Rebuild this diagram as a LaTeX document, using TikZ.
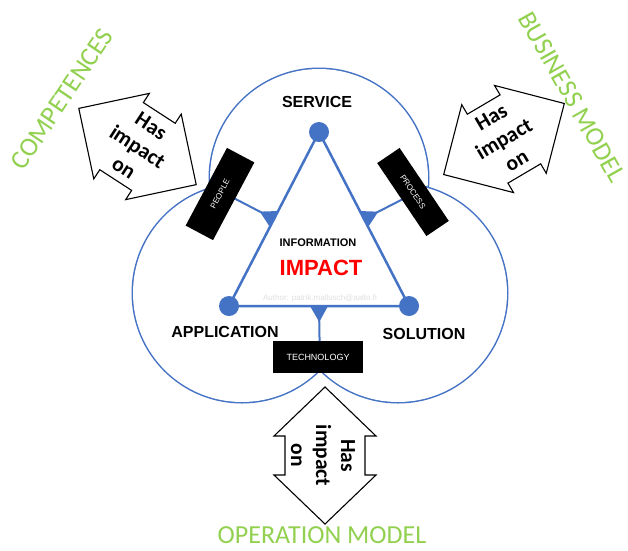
\documentclass[tikz,border=0pt]{standalone}
\usepackage{fontspec}
\setmainfont{Liberation Sans}
\newfontfamily\calfont{Carlito}
\usetikzlibrary{calc}
\definecolor{tblue}{HTML}{4472C4}
\definecolor{lgreen}{HTML}{92D050}
\definecolor{impred}{HTML}{FF0000}
\begin{document}
\begin{tikzpicture}[x=1pt,y=-1pt,
  dotnode/.style={circle,fill=tblue,inner sep=0pt,minimum size=20pt},
  blackbox/.style={fill=black,text=white,inner sep=0pt,font=\fontsize{8}{9}\selectfont},
  lbl/.style={font=\bfseries\fontsize{16}{19}\selectfont,inner sep=0pt},
  greenlbl/.style={text=lgreen,font=\calfont\fontsize{26.5}{30}\selectfont,inner sep=0pt},
  hasarrow/.style={draw=black,fill=white,line width=1.1pt,line join=miter},
  hastext/.style={font=\calfont\bfseries\fontsize{21.5}{25}\selectfont,align=center,inner sep=0pt},
  edgeline/.style={tblue,line width=2.5pt,line join=round},
  connline/.style={tblue,line width=2pt},
]
\path[use as bounding box] (0,0) rectangle (628,550);

% circles (outer outline only)
\coordinate (cT) at (319,178);
\coordinate (cL) at (242,293);
\coordinate (cR) at (398,293);
\draw[tblue,line width=3pt] (cT) circle[radius=109] (cL) circle[radius=109] (cR) circle[radius=109];
\fill[white] (cT) circle[radius=109] (cL) circle[radius=109] (cR) circle[radius=109];

% intersection points
\coordinate (P1) at (211.5,186.5);
\coordinate (P2) at (427.5,186.5);
\coordinate (P3) at (320,369.1);

% triangle
\coordinate (A) at (319,132);
\coordinate (B) at (229,306);
\coordinate (C) at (409,306);
\coordinate (mAB) at ($(A)!0.5!(B)$);
\coordinate (mAC) at ($(A)!0.5!(C)$);
\coordinate (mBC) at ($(B)!0.5!(C)$);

\draw[connline] (mAB) -- (P1);
\draw[connline] (mAC) -- (P2);
\draw[connline] (mBC) -- (P3);

\draw[edgeline] (A) -- (B) -- (C) -- cycle;

\fill[tblue] ($(mAB)!9pt!(A)$) -- ($(mAB)!9pt!(B)$) -- ($(mAB)!16pt!(P1)$) -- cycle;
\fill[tblue] ($(mAC)!9pt!(A)$) -- ($(mAC)!9pt!(C)$) -- ($(mAC)!16pt!(P2)$) -- cycle;
\fill[tblue] ($(mBC)!9pt!(B)$) -- ($(mBC)!9pt!(C)$) -- ($(mBC)!16pt!(P3)$) -- cycle;

\node[dotnode] (dA) at (A) {};
\node[dotnode] (dB) at (B) {};
\node[dotnode] (dC) at (C) {};

% black boxes
\node[blackbox,minimum width=88pt,minimum height=31pt,rotate=62] (people) at (220,194) {PEOPLE};
\node[blackbox,minimum width=88pt,minimum height=27pt,rotate=-56] (process) at (413,192) {PROCESS};
\node[blackbox,minimum width=90pt,minimum height=32pt,font=\fontsize{9}{10}\selectfont] (tech) at (318,357) {TECHNOLOGY};

% labels
\node[lbl] (service) at (317,102) {SERVICE};
\node[lbl] (application) at (225,332) {APPLICATION};
\node[lbl] (solution) at (424,334) {SOLUTION};
\node[font=\bfseries\fontsize{11}{13}\selectfont,inner sep=0pt] (information) at (318,243) {INFORMATION};
\node[font=\bfseries\fontsize{22}{26}\selectfont,text=impred,inner sep=0pt] (impact) at (321,268) {IMPACT};
\node[font=\fontsize{8}{9}\selectfont,text=black!12,inner sep=0pt] (author) at (320,298) {Author: patrik.mallusch@aalto.fi};

% double arrows
\begin{scope}[shift={(137.5,146.5)},rotate=-33]
\draw[hasarrow] (-70,0) -- (-19,-51) -- (-19,-40) -- (19,-40) -- (19,-51) -- (70,0) -- (19,51) -- (19,40) -- (-19,40) -- (-19,51) -- cycle;
\end{scope}
\node[hastext,rotate=-33] (has1) at (137.5,147) {Has\\impact\\on};

\begin{scope}[shift={(504,139)},rotate=30.5]
\draw[hasarrow] (-70,0) -- (-19,-51) -- (-19,-40) -- (19,-40) -- (19,-51) -- (70,0) -- (19,51) -- (19,40) -- (-19,40) -- (-19,51) -- cycle;
\end{scope}
\node[hastext,rotate=30.5] (has2) at (504,139) {Has\\impact\\on};

\begin{scope}[shift={(325,455.5)},rotate=-90]
\draw[hasarrow] (-68.5,0) -- (-19.5,-51) -- (-19.5,-40) -- (19.5,-40) -- (19.5,-51) -- (68.5,0) -- (19.5,51) -- (19.5,40) -- (-19.5,40) -- (-19.5,51) -- cycle;
\end{scope}
\node[hastext,rotate=-90] (has3) at (323,455.5) {Has\\impact\\on};

% green labels
\node[greenlbl,rotate=56] (competences) at (62,99) {COMPETENCES};
\node[greenlbl,rotate=-60.5] (business) at (572,97) {BUSINESS MODEL};
\node[greenlbl,font=\calfont\fontsize{26}{30}\selectfont] (operation) at (322,535.5) {OPERATION MODEL};
\end{tikzpicture}
\end{document}
